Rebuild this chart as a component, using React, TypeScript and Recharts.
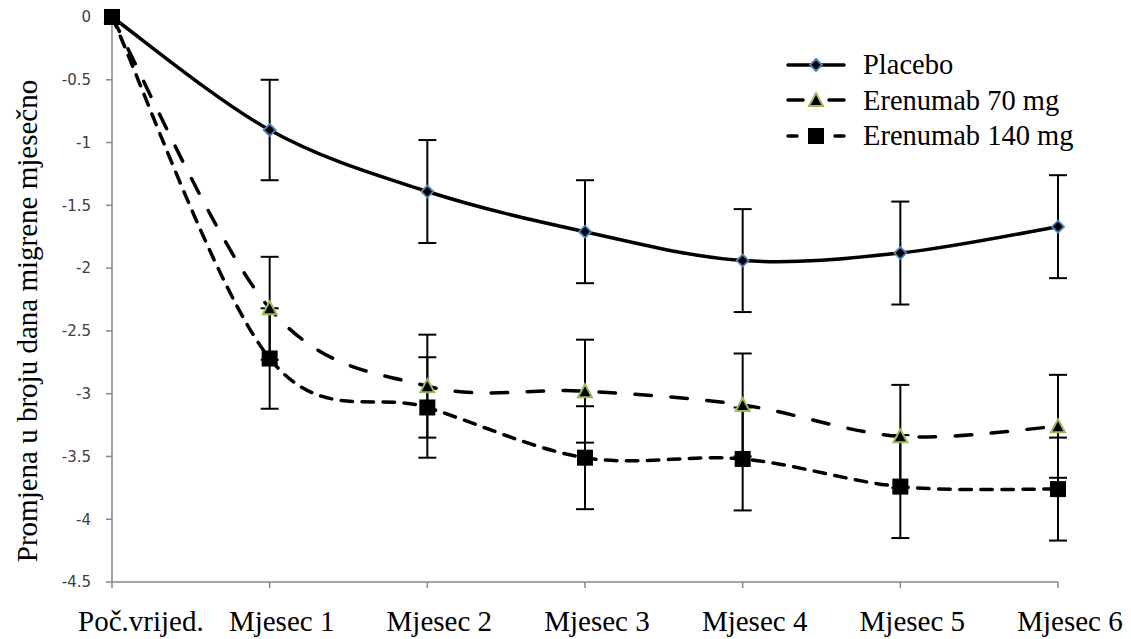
import { LineChart, Line, XAxis, YAxis, ErrorBar, Label } from 'recharts';

const categories = ['Poč.vrijed.', 'Mjesec 1', 'Mjesec 2', 'Mjesec 3', 'Mjesec 4', 'Mjesec 5', 'Mjesec 6'];
const placebo = [0, -0.9, -1.39, -1.71, -1.94, -1.88, -1.67];
const placeboErr = [0, 0.4, 0.41, 0.41, 0.41, 0.41, 0.41];
const eren70 = [0, -2.32, -2.94, -2.98, -3.09, -3.34, -3.26];
const eren70Err = [0, 0.41, 0.41, 0.41, 0.41, 0.41, 0.41];
const eren140 = [0, -2.72, -3.11, -3.51, -3.52, -3.74, -3.76];
const eren140Err = [0, 0.4, 0.4, 0.41, 0.41, 0.41, 0.41];
const yTicks = [0, -0.5, -1, -1.5, -2, -2.5, -3, -3.5, -4, -4.5];

const seriesNames = ['Placebo', 'Erenumab 70 mg', 'Erenumab 140 mg'];

const data = categories.map((name, i) => ({
  name,
  placebo: placebo[i],
  placeboErr: placeboErr[i],
  eren70: eren70[i],
  eren70Err: eren70Err[i],
  eren140: eren140[i],
  eren140Err: eren140Err[i],
}));

const AXIS = '#868686';
const SERIF = '"Liberation Serif", "Times New Roman", serif';

// Excel-style smoothed line (Catmull-Rom through the points)
const smoothCurve: any = (context: any) => {
  let pts: number[][] = [];
  return {
    areaStart() {},
    areaEnd() {},
    lineStart() {
      pts = [];
    },
    point(x: number, y: number) {
      pts.push([+x, +y]);
    },
    lineEnd() {
      const n = pts.length;
      if (!n) return;
      context.moveTo(pts[0][0], pts[0][1]);
      for (let i = 0; i < n - 1; i++) {
        const p0 = pts[Math.max(0, i - 1)];
        const p1 = pts[i];
        const p2 = pts[i + 1];
        const p3 = pts[Math.min(n - 1, i + 2)];
        context.bezierCurveTo(
          p1[0] + (p2[0] - p0[0]) / 6, p1[1] + (p2[1] - p0[1]) / 6,
          p2[0] - (p3[0] - p1[0]) / 6, p2[1] - (p3[1] - p1[1]) / 6,
          p2[0], p2[1]
        );
      }
    },
  };
};

// x labels sit a little right of their ticks; the first one starts just left of the axis
const XTick = (props: any) => {
  const { x, y, payload, index } = props;
  const first = index === 0;
  return (
    <text x={first ? 78 : x + 12} y={y} dy="0.71em" textAnchor={first ? 'start' : 'middle'}
      fontFamily={SERIF} fontSize={29} fill="#000">
      {payload.value}
    </text>
  );
};

// markers
const Diamond = (props: any) => {
  const { cx, cy, index } = props;
  const r = 6;
  return (
    <polygon key={`d${index}`} points={`${cx},${cy - r} ${cx + r},${cy} ${cx},${cy + r} ${cx - r},${cy}`}
      fill="#000" stroke="#4f81bd" strokeWidth={1.8} />
  );
};

const Triangle = (props: any) => {
  const { cx, cy, index } = props;
  return (
    <polygon key={`t${index}`} points={`${cx},${cy - 7} ${cx + 7},${cy + 6} ${cx - 7},${cy + 6}`}
      fill="#000" stroke="#9bbb59" strokeWidth={2} strokeLinejoin="miter" />
  );
};

const Square = (props: any) => {
  const { cx, cy, index } = props;
  return <rect key={`s${index}`} x={cx - 8} y={cy - 8} width={16} height={16} fill="#000" />;
};

const legendIcons = [Diamond, Triangle, Square];

function ChartLegend() {
  return (
    <div style={{ position: 'absolute', left: 786, top: 47 }}>
      {seriesNames.map((n, i) => {
        const Icon = legendIcons[i];
        return (
          <div key={n} style={{ display: 'flex', alignItems: 'center', height: 35.5 }}>
            <svg width={77} height={20}>
              {i === 0 && <line x1={2} y1={10} x2={58} y2={10} stroke="#000" strokeWidth={3.5} strokeLinecap="round" />}
              {i === 1 && (
                <g stroke="#000" strokeWidth={3.5} strokeLinecap="round">
                  <line x1={2} y1={10} x2={17} y2={10} />
                  <line x1={43} y1={10} x2={58} y2={10} />
                </g>
              )}
              {i === 2 && (
                <g stroke="#000" strokeWidth={3.5} strokeLinecap="round">
                  <line x1={2} y1={10} x2={11} y2={10} />
                  <line x1={49} y1={10} x2={58} y2={10} />
                </g>
              )}
              <Icon cx={30} cy={10} index={i} />
            </svg>
            <span style={{ fontFamily: SERIF, fontSize: 28.5, color: '#000', lineHeight: '29px' }}>{n}</span>
          </div>
        );
      })}
    </div>
  );
}

export default function App() {
  return (
    <div style={{ width: 1131, height: 639, background: '#fff', position: 'relative' }}>
      <style>{`body { margin: 0; }`}</style>
      <LineChart width={1131} height={639} data={data} margin={{ top: 17, right: 73, bottom: 0, left: 0 }}>
        <XAxis
          dataKey="name"
          height={57}
          stroke={AXIS}
          strokeWidth={1.5}
          tickSize={6}
          tickMargin={22}
          tick={XTick}
          interval={0}
        />
        <YAxis
          width={112}
          domain={[-4.5, 0]}
          ticks={yTicks}
          stroke={AXIS}
          strokeWidth={1.5}
          tickSize={6}
          tickMargin={15}
          tick={{ fill: '#404040', fontFamily: '"DejaVu Sans", Verdana, sans-serif', fontSize: 15 }}
        >
          <Label
            content={() => (
              <text x={27} y={321} transform="rotate(-90 27 321)" textAnchor="middle" dominantBaseline="central"
                fontFamily={SERIF} fontSize={29} fill="#000">
                Promjena u broju dana migrene mjesečno
              </text>
            )}
          />
        </YAxis>
        <Line type={smoothCurve} dataKey="placebo" name={seriesNames[0]} stroke="#000" strokeWidth={3.5}
          dot={Diamond} activeDot={false} isAnimationActive={false}>
          <ErrorBar dataKey="placeboErr" width={9} stroke="#000" strokeWidth={2} direction="y" />
        </Line>
        <Line type={smoothCurve} dataKey="eren70" name={seriesNames[1]} stroke="#000" strokeWidth={3.5}
          strokeDasharray="16.5 19.5" strokeLinecap="round" dot={Triangle} activeDot={false} isAnimationActive={false}>
          <ErrorBar dataKey="eren70Err" width={9} stroke="#000" strokeWidth={2} direction="y" />
        </Line>
        <Line type={smoothCurve} dataKey="eren140" name={seriesNames[2]} stroke="#000" strokeWidth={3.5}
          strokeDasharray="11.5 9.5" strokeLinecap="round" dot={Square} activeDot={false} isAnimationActive={false}>
          <ErrorBar dataKey="eren140Err" width={9} stroke="#000" strokeWidth={2} direction="y" />
        </Line>
      </LineChart>
      <ChartLegend />
    </div>
  );
}
